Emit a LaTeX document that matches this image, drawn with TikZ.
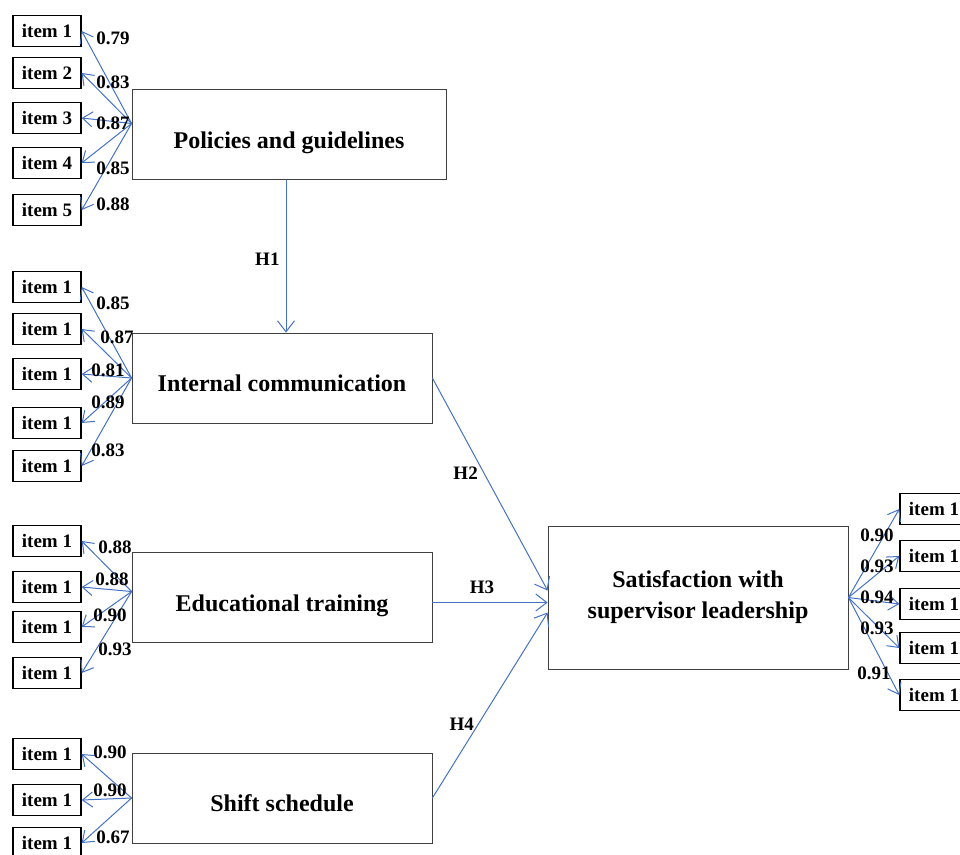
\documentclass[tikz,border=0pt]{standalone}
\usepackage{fontspec}
\setmainfont{Liberation Serif}
\usetikzlibrary{arrows.meta}
\definecolor{linkblue}{RGB}{68,114,196}
\tikzset{
  construct/.style={draw=black!75, line width=0.8pt, minimum width=300pt, minimum height=90pt,
    inner sep=0pt, font=\fontsize{24}{31}\selectfont\bfseries, align=center},
  oneline/.style={text height=27pt, text depth=0pt},
  item/.style={draw=black, line width=1.4pt, minimum width=68pt, minimum height=31pt,
    inner sep=0pt, font=\fontsize{19}{20}\selectfont\bfseries},
  num/.style={inner sep=0pt, font=\fontsize{19}{20}\selectfont\bfseries},
  load/.style={draw=linkblue, line width=1pt, -{Straight Barb[length=10pt,width=15pt]}},
  path/.style={draw=linkblue, line width=1pt, -{Straight Barb[length=11pt,width=17pt]}}
}
\begin{document}
\begin{tikzpicture}[x=1pt,y=-1pt]
  \useasboundingbox (0,0) rectangle (960,854);
  % constructs
  \node[construct, oneline, minimum width=314pt] (pol) at (289,134.5) {Policies and guidelines};
  \node[construct, oneline] (com) at (282,378) {Internal communication};
  \node[construct, oneline] (edu) at (282,597.5) {Educational training};
  \node[construct, oneline] (shi) at (282,798) {Shift schedule};
  \node[construct, minimum height=143pt] (sat) at (698,597.5) {Satisfaction with\\supervisor leadership};
  \coordinate (polw) at ([yshift=11pt]pol.west);
  \coordinate (eduw) at ([yshift=6pt]edu.west);
  % items and loadings
  \foreach \y [count=\i] in {31,73,118,163,210}{
    \node[item] (p\i) at (47,\y) {item \i};
    \draw[load] (polw) -- (p\i.east);
  }
  \foreach \y [count=\i] in {287,329,374,423,466}{
    \node[item] (c\i) at (47,\y) {item 1};
    \draw[load] (com.west) -- (c\i.east);
  }
  \foreach \y [count=\i] in {541,587,627,673}{
    \node[item] (t\i) at (47,\y) {item 1};
    \draw[load] (eduw) -- (t\i.east);
  }
  \foreach \y [count=\i] in {754,800,843}{
    \node[item] (s\i) at (47,\y) {item 1};
    \draw[load] (shi.west) -- (s\i.east);
  }
  \foreach \y [count=\i] in {509,556,604,648,695}{
    \node[item] (l\i) at (934,\y) {item 1};
    \draw[load] (sat.east) -- (l\i.west);
  }
  \foreach \v/\x/\y [count=\i] in {0.79/113/38, 0.83/113/82, 0.87/113/123, 0.85/113/168, 0.88/113/204,
      0.85/113/303, 0.87/117/337, 0.81/108/370, 0.89/108/402, 0.83/108/450,
      0.88/115/547, 0.88/112/579, 0.90/110/615, 0.93/115/649,
      0.90/110/752, 0.90/110/790, 0.67/113/837,
      0.90/877/535, 0.93/877/566, 0.94/877/597, 0.93/877/628, 0.91/874/673}{
    \node[num] (n\i) at (\x,\y) {\v};
  }
  % hypotheses
  \draw[path] (pol.south -| 286,0) -- (com.north -| 286,0) node[pos=0.52, left=6pt, num] (h1) {H1};
  \draw[path] (com.east) -- ([yshift=7pt]sat.west) node[pos=0.45, left=6pt, num] (h2) {H2};
  \draw[path] ([yshift=-5pt]edu.east) -- ([yshift=-5pt]sat.west) node[pos=0.43, above=8pt, num] (h3) {H3};
  \draw[path] (shi.east) -- ([yshift=-15pt]sat.west) node[pos=0.4, left=4pt, num] (h4) {H4};
\end{tikzpicture}
\end{document}
